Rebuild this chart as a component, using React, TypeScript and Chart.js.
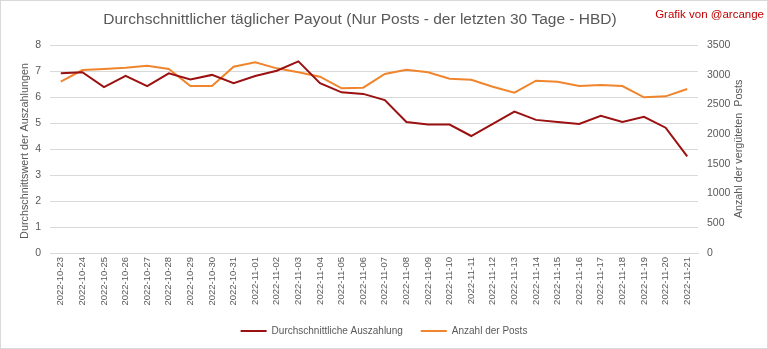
import React, { useEffect, useRef } from "react";
import { Chart, registerables } from "chart.js";

Chart.register(...registerables);

const dates = [
  "2022-10-23", "2022-10-24", "2022-10-25", "2022-10-26", "2022-10-27", "2022-10-28",
  "2022-10-29", "2022-10-30", "2022-10-31", "2022-11-01", "2022-11-02", "2022-11-03",
  "2022-11-04", "2022-11-05", "2022-11-06", "2022-11-07", "2022-11-08", "2022-11-09",
  "2022-11-10", "2022-11-11", "2022-11-12", "2022-11-13", "2022-11-14", "2022-11-15",
  "2022-11-16", "2022-11-17", "2022-11-18", "2022-11-19", "2022-11-20", "2022-11-21",
];

const avgPayout = [
  6.91, 6.95, 6.38, 6.81, 6.42, 6.91, 6.67, 6.85, 6.53, 6.81, 7.01, 7.37,
  6.53, 6.18, 6.12, 5.88, 5.04, 4.94, 4.94, 4.50, 4.97, 5.44, 5.12, 5.04,
  4.96, 5.28, 5.04, 5.24, 4.82, 3.72,
];

const postCount = [
  2883, 3079, 3096, 3118, 3152, 3096, 2810, 2810, 3135, 3208, 3107, 3040,
  2967, 2771, 2782, 3012, 3085, 3040, 2933, 2916, 2798, 2697, 2899, 2883,
  2810, 2827, 2810, 2620, 2636, 2760,
];

const titleText = "Durchschnittlicher täglicher Payout (Nur Posts - der letzten 30 Tage - HBD)";
const creditText = "Grafik von @arcange";
const leftAxisTitle = "Durchschnittswert der Auszahlungen";
const rightAxisTitle = "Anzahl der vergüteten  Posts";
const seriesNames = ["Durchschnittliche Auszahlung", "Anzahl der Posts"];

const FONT = "'Liberation Sans', 'DejaVu Sans', sans-serif";
const GRAY = "#595959";
const RED = "#9b1010";
const ORANGE = "#f0852d";

const extrasPlugin = {
  id: "extras",
  beforeDraw(chart: any) {
    const { ctx, width, height } = chart;
    ctx.save();
    ctx.fillStyle = "#ffffff";
    ctx.fillRect(0, 0, width, height);
    ctx.restore();
  },
  afterDraw(chart: any) {
    const { ctx, width, height, chartArea } = chart;
    ctx.save();
    ctx.strokeStyle = "#d9d9d9";
    ctx.lineWidth = 1;
    ctx.strokeRect(0.5, 0.5, width - 1, height - 1);

    ctx.fillStyle = GRAY;
    ctx.font = `15.5px ${FONT}`;
    ctx.textAlign = "center";
    ctx.textBaseline = "middle";
    ctx.fillText(titleText, 360, 20);

    ctx.fillStyle = "#c00000";
    ctx.font = `11.5px ${FONT}`;
    ctx.textAlign = "right";
    ctx.fillText(creditText, width - 4, 15);

    const midY = (chartArea.top + chartArea.bottom) / 2;
    ctx.fillStyle = GRAY;
    ctx.font = `10.8px ${FONT}`;
    ctx.textAlign = "center";
    ctx.translate(25, midY + 2);
    ctx.rotate(-Math.PI / 2);
    ctx.fillText(leftAxisTitle, 0, 0);
    ctx.setTransform(1, 0, 0, 1, 0, 0);
    ctx.translate(739, midY);
    ctx.rotate(-Math.PI / 2);
    ctx.fillText(rightAxisTitle, 0, 0);
    ctx.restore();
  },
};

export default function App() {
  const ref = useRef<HTMLCanvasElement | null>(null);

  useEffect(() => {
    if (!ref.current) return;
    const chart = new Chart(ref.current, {
      type: "line",
      data: {
        labels: dates,
        datasets: [
          {
            label: seriesNames[0],
            data: avgPayout,
            borderColor: RED,
            backgroundColor: RED,
            borderWidth: 2,
            pointRadius: 0,
            tension: 0,
            yAxisID: "y",
          },
          {
            label: seriesNames[1],
            data: postCount,
            borderColor: ORANGE,
            backgroundColor: ORANGE,
            borderWidth: 2,
            pointRadius: 0,
            tension: 0,
            yAxisID: "y1",
          },
        ],
      },
      options: {
        responsive: false,
        animation: false,
        layout: { padding: { left: 0, right: 0, top: 45, bottom: 3 } },
        plugins: {
          title: { display: false },
          legend: {
            position: "bottom",
            labels: {
              usePointStyle: true,
              pointStyle: "line",
              pointStyleWidth: 26,
              color: GRAY,
              font: { family: FONT, size: 10 },
              padding: 18,
            },
          },
          tooltip: { enabled: false },
        },
        scales: {
          x: {
            type: "category",
            offset: true,
            grid: { display: false, drawTicks: false },
            border: { display: true, color: "#d9d9d9" },
            ticks: {
              color: GRAY,
              font: { family: FONT, size: 9.5 },
              minRotation: 90,
              maxRotation: 90,
              autoSkip: false,
              padding: 4,
            },
            afterFit: (s: any) => { s.height = 55; },
          },
          y: {
            position: "left",
            min: 0,
            max: 8,
            ticks: { stepSize: 1, color: GRAY, font: { family: FONT, size: 10.5 }, padding: 9 },
            grid: { color: "#d9d9d9", drawTicks: false },
            border: { display: false },
            afterFit: (s: any) => { s.width = 50; },
          },
          y1: {
            position: "right",
            min: 0,
            max: 3500,
            ticks: {
              stepSize: 500,
              color: GRAY,
              font: { family: FONT, size: 10.5 },
              padding: 9,
              callback: (v: any) => String(v),
            },
            grid: { display: false, drawTicks: false },
            border: { display: false },
            afterFit: (s: any) => { s.width = 70; },
          },
        },
      },
      plugins: [extrasPlugin],
    });
    return () => chart.destroy();
  }, []);

  return (
    <div style={{ position: "fixed", left: 0, top: 0, width: 768, height: 349 }}>
      <canvas ref={ref} width={768} height={349} style={{ display: "block" }} />
    </div>
  );
}
